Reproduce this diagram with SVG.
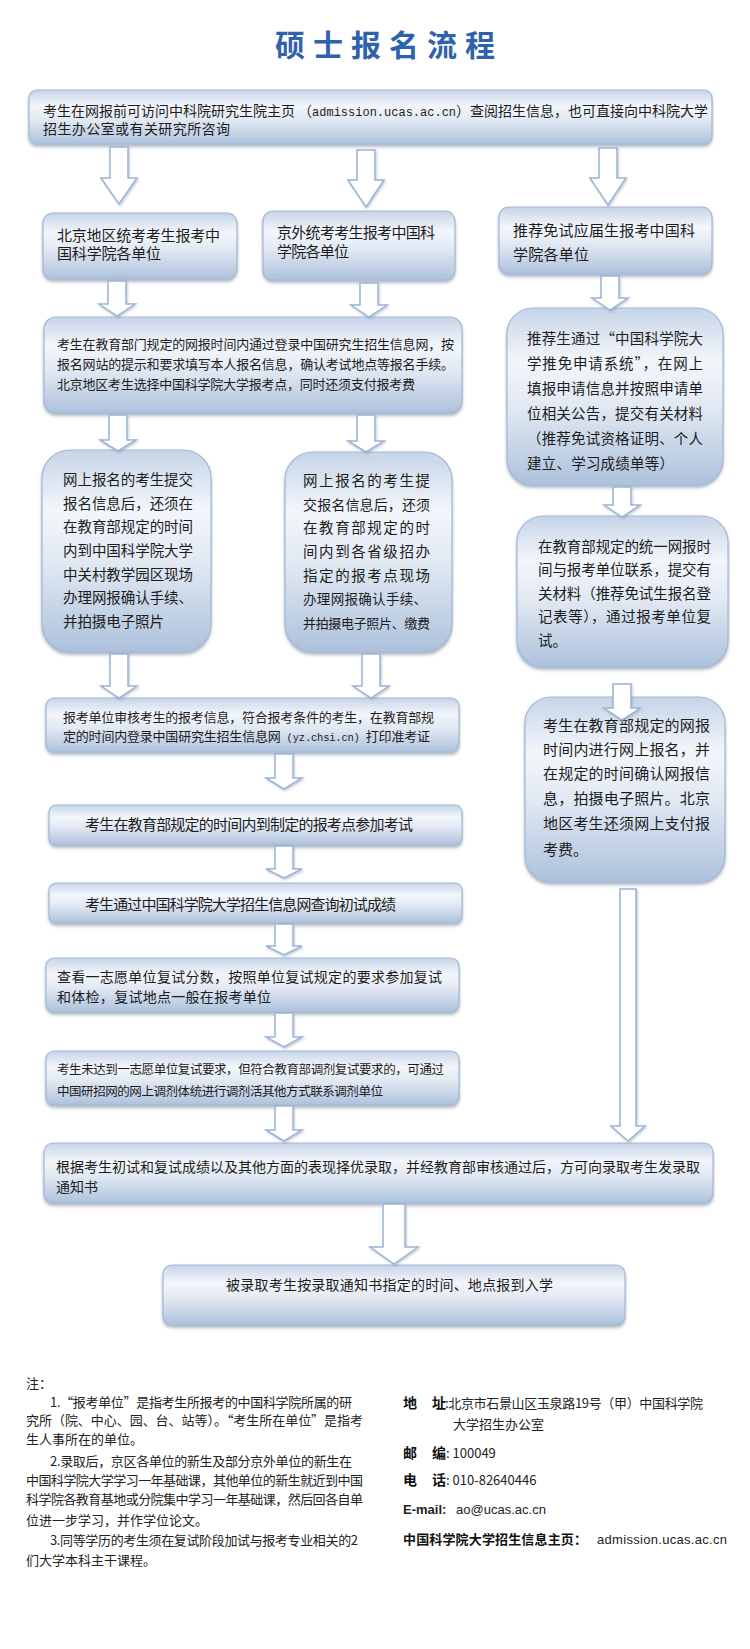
<svg xmlns="http://www.w3.org/2000/svg" width="750" height="1649" viewBox="0 0 750 1649">
<defs>
<linearGradient id="bg" x1="0" y1="0" x2="0" y2="1">
<stop offset="0" stop-color="#c6d4e8"/>
<stop offset="0.3" stop-color="#f3f6fb"/>
<stop offset="0.55" stop-color="#e2e9f3"/>
<stop offset="1" stop-color="#adc1dc"/>
</linearGradient>
<filter id="sh" x="-5%" y="-10%" width="110%" height="130%">
<feDropShadow dx="0" dy="2.5" stdDeviation="1.5" flood-color="#6f7f96" flood-opacity="0.55"/>
</filter>
<filter id="ash" x="-30%" y="-10%" width="160%" height="130%">
<feDropShadow dx="1" dy="1.5" stdDeviation="1" flood-color="#7f8fa6" flood-opacity="0.45"/>
</filter>
</defs>
<style>
.box{fill:url(#bg);stroke:#a3b8d5;stroke-width:1.2;filter:url(#sh)}
.t{font-family:"Noto Sans CJK SC","Noto Sans CJK JP",sans-serif;font-size:14px;fill:#1c1c1c}
.m{font-family:"Liberation Mono",monospace;font-size:12px}
.arr{fill:#ffffff;stroke:#9cb4d5;stroke-width:1.5;filter:url(#ash)}
.n{font-family:"Noto Sans CJK SC",sans-serif;font-size:13px;fill:#222}
.b{font-family:"Noto Sans CJK SC",sans-serif;font-size:14px;font-weight:bold;fill:#111}
.s{font-family:"Liberation Sans",Arial,sans-serif;font-size:13px;fill:#222}
</style>
<rect width="750" height="1649" fill="#ffffff"/>

<g id="title">
<text x="389" y="56" text-anchor="middle" style="font-family:'Noto Sans CJK SC',sans-serif;font-size:30px;font-weight:bold;fill:#2e62ad;letter-spacing:8px">硕士报名流程</text>
</g>

<g id="n-start">
<rect class="box" x="29" y="90" width="683" height="54" rx="8"/>
<text class="t" x="43" y="116" textLength="665" lengthAdjust="spacing">考生在网报前可访问中科院研究生院主页 （<tspan class="m">admission.ucas.ac.cn</tspan>）查阅招生信息，也可直接向中科院大学</text>
<text class="t" x="43" y="134" textLength="187" lengthAdjust="spacing">招生办公室或有关研究所咨询</text>
</g>

<g id="n-beijing">
<rect class="box" x="43" y="213" width="194" height="66" rx="10"/>
<text class="t" x="57" y="241" style="font-size:15px" textLength="163" lengthAdjust="spacing">北京地区统考考生报考中</text>
<text class="t" x="57" y="259" style="font-size:15px" textLength="104" lengthAdjust="spacing">国科学院各单位</text>
</g>

<g id="n-jingwai">
<rect class="box" x="263" y="211" width="192" height="69" rx="10"/>
<text class="t" x="277" y="238" style="font-size:15px" textLength="158" lengthAdjust="spacing">京外统考考生报考中国科</text>
<text class="t" x="277" y="257" style="font-size:15px" textLength="72" lengthAdjust="spacing">学院各单位</text>
</g>

<g id="n-tuijian">
<rect class="box" x="499" y="207" width="213" height="67" rx="10"/>
<text class="t" x="513" y="236" style="font-size:15px" textLength="182" lengthAdjust="spacing">推荐免试应届生报考中国科</text>
<text class="t" x="513" y="260" style="font-size:15px" textLength="76" lengthAdjust="spacing">学院各单位</text>
</g>

<g id="n-wangbao">
<rect class="box" x="44" y="317" width="418" height="96" rx="12"/>
<text class="t" x="57" y="349" style="font-size:13px" textLength="397" lengthAdjust="spacing">考生在教育部门规定的网报时间内通过登录中国研究生招生信息网，按</text>
<text class="t" x="57" y="369" style="font-size:13px" textLength="397" lengthAdjust="spacing">报名网站的提示和要求填写本人报名信息，确认考试地点等报名手续。</text>
<text class="t" x="57" y="389" style="font-size:13px" textLength="358" lengthAdjust="spacing">北京地区考生选择中国科学院大学报考点，同时还须支付报考费</text>
</g>

<g id="n-tuimian">
<rect class="box" x="507" y="308" width="216" height="177" rx="26"/>
<text class="t" x="527" y="344" style="font-size:14.5px" textLength="176" lengthAdjust="spacing">推荐生通过“中国科学院大</text>
<text class="t" x="527" y="369" style="font-size:14.5px" textLength="176" lengthAdjust="spacing">学推免申请系统”，在网上</text>
<text class="t" x="527" y="394" style="font-size:14.5px" textLength="176" lengthAdjust="spacing">填报申请信息并按照申请单</text>
<text class="t" x="527" y="419" style="font-size:14.5px" textLength="176" lengthAdjust="spacing">位相关公告，提交有关材料</text>
<text class="t" x="527" y="444" style="font-size:14.5px" textLength="176" lengthAdjust="spacing">（推荐免试资格证明、个人</text>
<text class="t" x="527" y="469" style="font-size:14.5px" textLength="147" lengthAdjust="spacing">建立、学习成绩单等）</text>
</g>

<g id="n-queren-bj">
<rect class="box" x="42" y="450" width="169" height="202" rx="28"/>
<text class="t" x="63" y="485" style="font-size:14.5px" textLength="130" lengthAdjust="spacing">网上报名的考生提交</text>
<text class="t" x="63" y="509" style="font-size:14.5px" textLength="130" lengthAdjust="spacing">报名信息后，还须在</text>
<text class="t" x="63" y="532" style="font-size:14.5px" textLength="130" lengthAdjust="spacing">在教育部规定的时间</text>
<text class="t" x="63" y="556" style="font-size:14.5px" textLength="130" lengthAdjust="spacing">内到中国科学院大学</text>
<text class="t" x="63" y="580" style="font-size:14.5px" textLength="130" lengthAdjust="spacing">中关村教学园区现场</text>
<text class="t" x="63" y="603" style="font-size:14.5px" textLength="130" lengthAdjust="spacing">办理网报确认手续、</text>
<text class="t" x="63" y="627" style="font-size:14.5px" textLength="101" lengthAdjust="spacing">并拍摄电子照片</text>
</g>

<g id="n-queren-jw">
<rect class="box" x="285" y="452" width="167" height="200" rx="28"/>
<text class="t" x="303" y="486" style="font-size:14.5px" textLength="127" lengthAdjust="spacing">网上报名的考生提</text>
<text class="t" x="303" y="510" style="font-size:14px" textLength="127" lengthAdjust="spacing">交报名信息后，还须</text>
<text class="t" x="303" y="533" style="font-size:14.5px" textLength="127" lengthAdjust="spacing">在教育部规定的时</text>
<text class="t" x="303" y="557" style="font-size:14.5px" textLength="127" lengthAdjust="spacing">间内到各省级招办</text>
<text class="t" x="303" y="581" style="font-size:14.5px" textLength="127" lengthAdjust="spacing">指定的报考点现场</text>
<text class="t" x="303" y="604" style="font-size:13.5px" textLength="124" lengthAdjust="spacing">办理网报确认手续、</text>
<text class="t" x="303" y="628" style="font-size:13px" textLength="127" lengthAdjust="spacing">并拍摄电子照片、缴费</text>
</g>

<g id="n-tongyi">
<rect class="box" x="517" y="516" width="211" height="151" rx="26"/>
<text class="t" x="538" y="552" style="font-size:14.5px" textLength="173" lengthAdjust="spacing">在教育部规定的统一网报时</text>
<text class="t" x="538" y="575" style="font-size:14.5px" textLength="173" lengthAdjust="spacing">间与报考单位联系，提交有</text>
<text class="t" x="538" y="599" style="font-size:14.5px" textLength="173" lengthAdjust="spacing">关材料（推荐免试生报名登</text>
<text class="t" x="538" y="622" style="font-size:14.5px" textLength="173" lengthAdjust="spacing">记表等），通过报考单位复</text>
<text class="t" x="538" y="646" style="font-size:14.5px">试。</text>
</g>

<g id="n-shenhe">
<rect class="box" x="46" y="698" width="413" height="54" rx="8"/>
<text class="t" x="63" y="722" style="font-size:13px" textLength="371" lengthAdjust="spacing">报考单位审核考生的报考信息，符合报考条件的考生，在教育部规</text>
<text class="t" x="63" y="741" style="font-size:13px" textLength="367" lengthAdjust="spacing">定的时间内登录中国研究生招生信息网<tspan class="m" style="font-size:10.5px"> (yz.chsi.cn) </tspan>打印准考证</text>
</g>

<g id="n-wangbao-tm">
<rect class="box" x="525" y="697" width="200" height="185" rx="26"/>
<text class="t" x="543" y="731" style="font-size:15px" textLength="167" lengthAdjust="spacing">考生在教育部规定的网报</text>
<text class="t" x="543" y="755" style="font-size:15px" textLength="167" lengthAdjust="spacing">时间内进行网上报名，并</text>
<text class="t" x="543" y="779" style="font-size:15px" textLength="167" lengthAdjust="spacing">在规定的时间确认网报信</text>
<text class="t" x="543" y="804" style="font-size:15px" textLength="167" lengthAdjust="spacing">息，拍摄电子照片。北京</text>
<text class="t" x="543" y="829" style="font-size:15px" textLength="167" lengthAdjust="spacing">地区考生还须网上支付报</text>
<text class="t" x="543" y="855" style="font-size:15px">考费。</text>
</g>

<g id="n-kaoshi">
<rect class="box" x="49" y="805" width="413" height="40" rx="7"/>
<text class="t" x="85" y="830" style="font-size:15px" textLength="328" lengthAdjust="spacing">考生在教育部规定的时间内到制定的报考点参加考试</text>
</g>

<g id="n-chaxun">
<rect class="box" x="49" y="883" width="413" height="40" rx="7"/>
<text class="t" x="85" y="910" style="font-size:15px" textLength="311" lengthAdjust="spacing">考生通过中国科学院大学招生信息网查询初试成绩</text>
</g>

<g id="n-fushi">
<rect class="box" x="46" y="958" width="413" height="54" rx="8"/>
<text class="t" x="57" y="982" textLength="385" lengthAdjust="spacing">查看一志愿单位复试分数，按照单位复试规定的要求参加复试</text>
<text class="t" x="57" y="1002" textLength="214" lengthAdjust="spacing">和体检，复试地点一般在报考单位</text>
</g>

<g id="n-tiaoji">
<rect class="box" x="46" y="1051" width="413" height="54" rx="8"/>
<text class="t" x="57" y="1074" style="font-size:12.5px" textLength="387" lengthAdjust="spacing">考生未达到一志愿单位复试要求，但符合教育部调剂复试要求的，可通过</text>
<text class="t" x="57" y="1096" style="font-size:12.5px" textLength="326" lengthAdjust="spacing">中国研招网的网上调剂体统进行调剂活其他方式联系调剂单位</text>
</g>

<g id="n-luqu">
<rect class="box" x="44" y="1143" width="669" height="60" rx="9"/>
<text class="t" x="56" y="1172" textLength="644" lengthAdjust="spacing">根据考生初试和复试成绩以及其他方面的表现择优录取，并经教育部审核通过后，方可向录取考生发录取</text>
<text class="t" x="56" y="1192">通知书</text>
</g>

<g id="n-ruxue">
<rect class="box" x="163" y="1265" width="462" height="60" rx="9"/>
<text class="t" x="226" y="1290" textLength="327" lengthAdjust="spacing">被录取考生按录取通知书指定的时间、地点报到入学</text>
</g>

<g id="connectors">
<path class="arr" d="M110,147 H128 V178 H137 L119,204 L101,178 H110 Z"/>
<path class="arr" d="M357,150 H375 V180 H384 L366,207 L348,180 H357 Z"/>
<path class="arr" d="M599,148 H617 V178 H626 L608,205 L590,178 H599 Z"/>
<path class="arr" d="M108,281 H126 V304 H135 L117,316 L99,304 H108 Z"/>
<path class="arr" d="M360,283 H378 V305 H387 L369,317 L351,305 H360 Z"/>
<path class="arr" d="M601,276 H619 V298 H628 L610,310 L592,298 H601 Z"/>
<path class="arr" d="M109,415 H127 V440 H136 L118,451 L100,440 H109 Z"/>
<path class="arr" d="M357,415 H375 V441 H384 L366,452 L348,441 H357 Z"/>
<path class="arr" d="M613,487 H631 V505 H640 L622,517 L604,505 H613 Z"/>
<path class="arr" d="M110,654 H128 V686 H137 L119,698 L101,686 H110 Z"/>
<path class="arr" d="M362,654 H380 V686 H389 L371,698 L353,686 H362 Z"/>
<path class="arr" d="M613,684 H631 V708 H640 L622,720 L604,708 H613 Z"/>
<path class="arr" d="M275,754 H293 V778 H302 L284,789 L266,778 H275 Z"/>
<path class="arr" d="M275,846 H293 V869 H302 L284,878 L266,869 H275 Z"/>
<path class="arr" d="M275,924 H293 V946 H302 L284,955 L266,946 H275 Z"/>
<path class="arr" d="M275,1013 H293 V1037 H302 L284,1047 L266,1037 H275 Z"/>
<path class="arr" d="M275,1106 H293 V1130 H302 L284,1141 L266,1130 H275 Z"/>
<path class="arr" d="M620,889 H636 V1126 H645 L628,1141 L611,1126 H620 Z"/>
<path class="arr" d="M383,1204 H405 V1247 H418 L394,1264 L370,1247 H383 Z"/>
</g>

<g id="notes">
<text class="n" x="26" y="1388">注：</text>
<text class="n" x="50" y="1407" textLength="302" lengthAdjust="spacing">1.“报考单位”是指考生所报考的中国科学院所属的研</text>
<text class="n" x="26" y="1425" textLength="337" lengthAdjust="spacing">究所（院、中心、园、台、站等）。“考生所在单位”是指考</text>
<text class="n" x="26" y="1444">生人事所在的单位。</text>
<text class="n" x="50" y="1466" textLength="302" lengthAdjust="spacing">2.录取后，京区各单位的新生及部分京外单位的新生在</text>
<text class="n" x="26" y="1485" textLength="337" lengthAdjust="spacing">中国科学院大学学习一年基础课，其他单位的新生就近到中国</text>
<text class="n" x="26" y="1504" textLength="337" lengthAdjust="spacing">科学院各教育基地或分院集中学习一年基础课，然后回各自单</text>
<text class="n" x="26" y="1525">位进一步学习，并作学位论文。</text>
<text class="n" x="50" y="1545" textLength="308" lengthAdjust="spacing">3.同等学历的考生须在复试阶段加试与报考专业相关的2</text>
<text class="n" x="26" y="1565">们大学本科主干课程。</text>
</g>

<g id="contact">
<text class="b" x="403" y="1408">地</text>
<text class="b" x="432" y="1408">址</text>
<text class="n" x="445" y="1408" textLength="258" lengthAdjust="spacing">:北京市石景山区玉泉路19号（甲）中国科学院</text>
<text class="n" x="453" y="1429">大学招生办公室</text>
<text class="b" x="403" y="1458">邮</text>
<text class="b" x="432" y="1458">编</text>
<text class="n" x="446" y="1458">: 100049</text>
<text class="b" x="403" y="1485">电</text>
<text class="b" x="432" y="1485">话</text>
<text class="n" x="446" y="1485">: 010-82640446</text>
<text class="s" x="403" y="1514" style="font-weight:bold">E-mail:</text>
<text class="s" x="456" y="1514" textLength="90" lengthAdjust="spacing">ao@ucas.ac.cn</text>
<text class="b" x="403" y="1544" style="font-size:13px" textLength="184" lengthAdjust="spacing">中国科学院大学招生信息主页：</text>
<text class="s" x="597" y="1544" textLength="130" lengthAdjust="spacing">admission.ucas.ac.cn</text>
</g>
</svg>
